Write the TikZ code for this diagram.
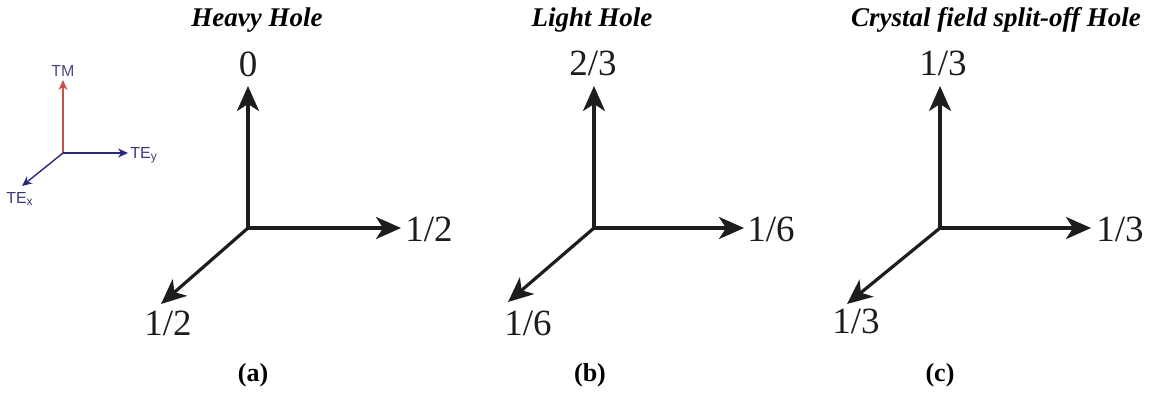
\documentclass[tikz,border=0pt]{standalone}
\usepackage{fontspec}
\setmainfont{Liberation Serif}
\setsansfont{Liberation Sans}
\usetikzlibrary{arrows.meta}
\definecolor{tmred}{RGB}{200,80,70}
\definecolor{tenavy}{RGB}{40,40,120}
\definecolor{axgray}{RGB}{30,28,30}
\tikzset{
  axis/.style={line width=1.6pt, color=axgray, -{Stealth[length=12.5pt, width=11pt, inset=3.5pt]}},
  leg/.style={line width=0.7pt, -{Stealth[length=5pt, width=4.5pt]}},
  val/.style={font=\fontsize{18.5}{21}\selectfont, text=axgray, inner sep=0pt},
  ttl/.style={font=\fontsize{13.5}{16}\selectfont\bfseries\itshape, inner sep=0pt},
  subcap/.style={font=\fontsize{13}{16}\selectfont\bfseries, inner sep=0pt},
  legtxt/.style={font=\sffamily\fontsize{8}{10}\selectfont, text=tenavy!80!gray, inner sep=0pt}
}
\begin{document}
\begin{tikzpicture}[x=0.5pt, y=-0.5pt]
    \useasboundingbox (0,0) rectangle (1154,392);
    % legend
    \coordinate (lo) at (63,153);
    \coordinate (ltm) at (63,80);
    \coordinate (ley) at (128,153);
    \coordinate (lex) at (22,186);
    \draw[leg, tmred] (lo) -- (ltm);
    \draw[leg, tenavy] (lo) -- (ley);
    \draw[leg, tenavy] (lo) -- (lex);
    \node[legtxt, text=tenavy!60!gray] (tm) at (63,71) {TM};
    \node[legtxt, anchor=west] (tey) at (130,155) {TE\textsubscript{y}};
    \node[legtxt] (tex) at (20,199) {TE\textsubscript{x}};
    % (a) heavy hole
    \coordinate (oa) at (248,228);
    \coordinate (ua) at (248,86);
    \coordinate (ra) at (401,228);
    \coordinate (da) at (161,304);
    \draw[axis] (oa) -- (ua);
    \draw[axis] (oa) -- (ra);
    \draw[axis] (oa) -- (da);
    \node[val] (za) at (248,64) {0};
    \node[val, anchor=west] (xa) at (405,229) {1/2};
    \node[val] (ya) at (168,323) {1/2};
    \node[ttl] (ha) at (257,20) {Heavy Hole};
    \node[subcap] (ca) at (253,375) {(a)};
    % (b) light hole
    \coordinate (ob) at (594,228);
    \coordinate (ub) at (594,86);
    \coordinate (rb) at (744,228);
    \coordinate (db) at (508,302);
    \draw[axis] (ob) -- (ub);
    \draw[axis] (ob) -- (rb);
    \draw[axis] (ob) -- (db);
    \node[val] (zb) at (593,63) {2/3};
    \node[val, anchor=west] (xb) at (747,229) {1/6};
    \node[val] (yb) at (528,323) {1/6};
    \node[ttl] (hb) at (592,20) {Light Hole};
    \node[subcap] (cb) at (590,375) {(b)};
    % (c) split-off hole
    \coordinate (oc) at (940,228);
    \coordinate (uc) at (940,86);
    \coordinate (rc) at (1091,228);
    \coordinate (dc) at (847,304);
    \draw[axis] (oc) -- (uc);
    \draw[axis] (oc) -- (rc);
    \draw[axis] (oc) -- (dc);
    \node[val] (zc) at (943,63) {1/3};
    \node[val, anchor=west] (xc) at (1096,229) {1/3};
    \node[val] (yc) at (856,321) {1/3};
    \node[ttl] (hc) at (996,20) {Crystal field split-off Hole};
    \node[subcap] (cc) at (940,375) {(c)};
\end{tikzpicture}
\end{document}
